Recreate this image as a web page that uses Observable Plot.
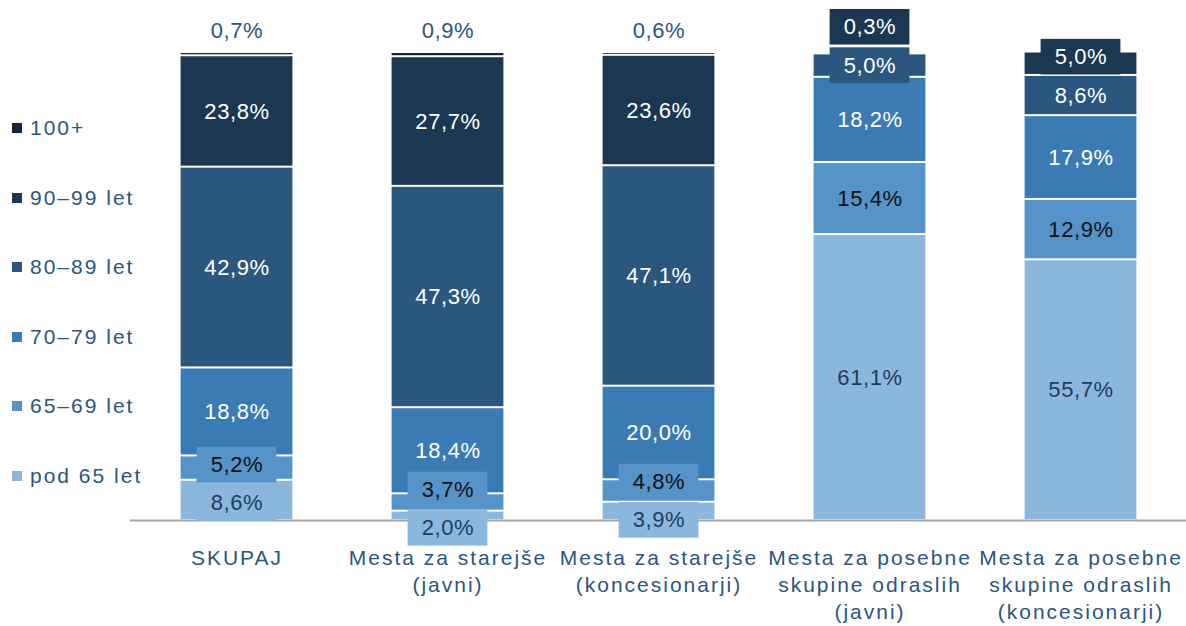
<!DOCTYPE html>
<html><head><meta charset="utf-8">
<script src="https://cdn.jsdelivr.net/npm/d3@7"></script>
<script src="https://cdn.jsdelivr.net/npm/@observablehq/plot@0.6"></script>
<style>
body{margin:0;background:#fff;}
#wrap{position:relative;width:1186px;height:626px;font-family:"Liberation Sans",Arial,sans-serif;}
#legend{position:absolute;left:0;top:0;}
.item{position:absolute;left:12px;display:flex;align-items:center;font-size:21px;color:#2a5580;letter-spacing:2px;white-space:nowrap;height:24px;margin-top:-12px;}
.sw{width:10px;height:10px;margin-right:8px;flex:none;}
svg g[aria-label="x-axis tick label"] text{letter-spacing:2px;}
svg g.lab text{letter-spacing:0.6px;}
</style></head><body><div id="wrap"><div id="chart"></div><div id="legend"></div></div>
<script>
const categories = [
  "SKUPAJ",
  "Mesta za starejše\n(javni)",
  "Mesta za starejše\n(koncesionarji)",
  "Mesta za posebne\nskupine odraslih\n(javni)",
  "Mesta za posebne\nskupine odraslih\n(koncesionarji)"
];
const series = ["pod 65 let", "65–69 let", "70–79 let", "80–89 let", "90–99 let", "100+"];
const pod65   = [8.6, 2.0, 3.9, 61.1, 55.7];
const s65_69  = [5.2, 3.7, 4.8, 15.4, 12.9];
const s70_79  = [18.8, 18.4, 20.0, 18.2, 17.9];
const s80_89  = [42.9, 47.3, 47.1, 5.0, 8.6];
const s90_99  = [23.8, 27.7, 23.6, 0.3, 5.0];
const s100    = [0.7, 0.9, 0.6, 0, 0];
const values = [pod65, s65_69, s70_79, s80_89, s90_99, s100];
const colors = ["#8cb7dc", "#5593c8", "#3b7bb3", "#2b577f", "#1c3751", "#13263a"];
const textColors = ["#1f3d5e", "#111111", "#ffffff"];

const fmt = v => d3.format(".1f")(v).replace(".", ",") + "%";

const rows = [];
categories.forEach((c, i) => series.forEach((s, j) => rows.push({cat: c, series: s, value: values[j][i]})));

const inside = [], outside = [];
categories.forEach((c, i) => {
  let cum = 0;
  const labs = [];
  series.forEach((s, j) => {
    const v = values[j][i];
    const lo = cum; cum += v;
    if (v <= 0) return;
    if (j === series.length - 1) outside.push({cat: c, series: s, value: v, y: cum});
    else labs.push({cat: c, series: s, j, value: v, ly: (lo + cum) / 2});
  });
  const sep = 8.2;
  for (let k = 1; k < labs.length; k++) {
    const a = labs[k - 1], b = labs[k];
    if (b.ly - a.ly < sep) {
      const m = (a.ly + b.ly) / 2;
      if (m < 50) { a.ly = m - sep / 2; b.ly = m + sep / 2; }
      else b.ly = a.ly + sep;
    }
  }
  inside.push(...labs);
});

const textMarks = [0, 1, 2].map(g => Plot.text(inside.filter(d => (g === 0 ? d.j === 0 : g === 1 ? d.j === 1 : d.j > 1)), {
  x: "cat", y: "ly", text: d => fmt(d.value), fill: textColors[g],
  fontSize: 22, className: "lab"
}));

const chart = Plot.plot({
  width: 1186, height: 626,
  marginLeft: 130, marginRight: 0, marginTop: 52, marginBottom: 106,
  style: {fontFamily: "'Liberation Sans', Arial, sans-serif", color: "#2a5580", background: "#fff"},
  x: {domain: categories, padding: 0, label: null},
  y: {domain: [0, 100], axis: null},
  color: {domain: series, range: colors},
  marks: [
    Plot.barY(rows, {x: "cat", y: "value", fill: "series", order: series, insetLeft: 49.6, insetRight: 49.6, insetTop: 1, insetBottom: 1}),
    Plot.ruleY([0], {stroke: "#a3a3a3", strokeWidth: 2}),
    Plot.barY(inside, {x: "cat", y1: d => d.ly - 3.8, y2: d => d.ly + 3.8, fill: "series", insetLeft: 65.6, insetRight: 65.6}),
    ...textMarks,
    Plot.text(outside, {x: "cat", y: "y", text: d => fmt(d.value), dy: -22, fill: "#2a5580", fontSize: 22, className: "lab"}),
    Plot.axisX({tickSize: 0, tickPadding: 25, fontSize: 21, lineHeight: 1.3, label: null})
  ]
});
document.getElementById("chart").appendChild(chart);

const legend = document.getElementById("legend");
series.slice().reverse().forEach((s, k) => {
  const idx = series.length - 1 - k;
  const it = document.createElement("div");
  it.className = "item";
  it.style.top = (128 + k * 69.5) + "px";
  it.innerHTML = `<span class="sw" style="background:${colors[idx]}"></span><span>${s}</span>`;
  legend.appendChild(it);
});
</script>
</body></html>
